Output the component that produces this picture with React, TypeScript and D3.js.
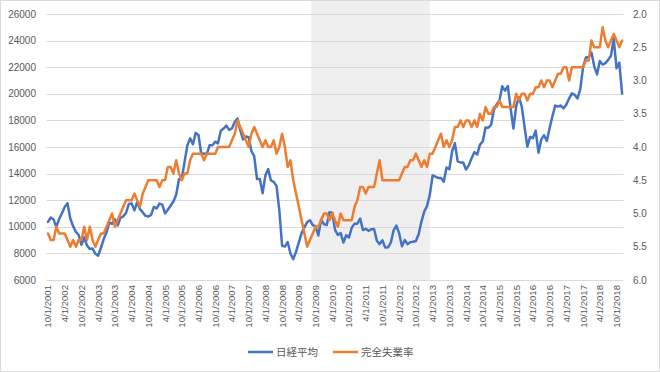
import React from "react";
import * as d3 from "d3";

// Monthly series, starting Oct 2001, ending Dec 2018
const startYear = 2001;
const startMonth = 10;

// 日経平均 (month-end close)
const nikkei: number[] = [
  10366, 10697, 10543, // 2001 Oct-Dec
  9997, 10587, 11025, 11493, 11764, 10622, 10053, 9619, 9383, 8640, 9216, 8579, // 2002
  8340, 8363, 7973, 7831, 8425, 9083, 9563, 10344, 10219, 10560, 10101, 10677, // 2003
  10784, 11042, 11715, 11762, 11236, 11858, 11326, 11082, 10824, 10771, 10899, 11489, // 2004
  11388, 11741, 11669, 11009, 11277, 11584, 11900, 12414, 13574, 13607, 14872, 16111, // 2005
  16650, 16205, 17059, 16906, 15468, 15505, 15457, 16141, 16128, 16399, 16274, 17226, // 2006
  17383, 17604, 17288, 17400, 17876, 18138, 17249, 16569, 16786, 16738, 15681, 15308, // 2007
  13592, 13603, 12526, 13850, 14339, 13481, 13377, 13073, 11260, 8577, 8512, 8860, // 2008
  7994, 7568, 8110, 8828, 9523, 9958, 10357, 10493, 10133, 10035, 9345, 10546, // 2009
  10198, 10126, 11090, 11057, 9769, 9383, 9537, 8824, 9369, 9202, 9937, 10229, // 2010
  10238, 10624, 9755, 9850, 9694, 9816, 9833, 8955, 8700, 8988, 8435, 8455, // 2011
  8803, 9723, 10084, 9521, 8543, 9007, 8695, 8840, 8870, 8928, 9446, 10395, // 2012
  11139, 11559, 12398, 13861, 13775, 13677, 13668, 13389, 14456, 14328, 15662, 16291, // 2013
  14915, 14841, 14828, 14304, 14632, 15162, 15621, 15425, 16174, 16414, 17460, 17451, // 2014
  17674, 18798, 19207, 19520, 20563, 20236, 20585, 18890, 17388, 19083, 19747, 19034, // 2015
  17518, 16027, 16759, 16666, 17235, 15576, 16569, 16887, 16450, 17425, 18308, 19114, // 2016
  19041, 19119, 18909, 19197, 19651, 20033, 19925, 19646, 20356, 22012, 22725, 22765, // 2017
  23098, 22068, 21454, 22468, 22202, 22305, 22554, 22865, 24120, 21920, 22351, 20015, // 2018
];

// 完全失業率 (%)
const unemployment: number[] = [
  5.3, 5.4, 5.4, // 2001 Oct-Dec
  5.2, 5.3, 5.3, 5.3, 5.4, 5.5, 5.4, 5.5, 5.4, 5.4, 5.2, 5.4, // 2002
  5.2, 5.4, 5.5, 5.4, 5.3, 5.3, 5.2, 5.1, 5.0, 5.2, 5.1, 5.0, // 2003
  4.9, 4.8, 4.8, 4.8, 4.7, 4.8, 4.9, 4.7, 4.6, 4.5, 4.5, 4.5, // 2004
  4.5, 4.6, 4.5, 4.5, 4.3, 4.3, 4.4, 4.2, 4.4, 4.5, 4.4, 4.4, // 2005
  4.2, 4.1, 4.1, 4.1, 4.1, 4.2, 4.1, 4.1, 4.1, 4.1, 4.0, 4.0, // 2006
  4.0, 4.0, 4.0, 3.9, 3.8, 3.6, 3.7, 3.8, 3.9, 4.0, 3.8, 3.7, // 2007
  3.8, 3.9, 4.0, 3.9, 4.0, 4.0, 3.9, 4.1, 4.0, 3.8, 4.0, 4.3, // 2008
  4.2, 4.5, 4.7, 4.9, 5.1, 5.3, 5.5, 5.4, 5.3, 5.2, 5.2, 5.1, // 2009
  5.0, 5.0, 5.1, 5.0, 5.1, 5.2, 5.0, 5.1, 5.1, 5.1, 5.1, 4.9, // 2010
  4.8, 4.6, 4.6, 4.7, 4.6, 4.6, 4.6, 4.4, 4.2, 4.5, 4.5, 4.5, // 2011
  4.5, 4.5, 4.5, 4.5, 4.4, 4.3, 4.3, 4.2, 4.2, 4.1, 4.2, 4.3, // 2012
  4.2, 4.3, 4.1, 4.1, 4.0, 3.9, 3.8, 4.0, 3.9, 4.0, 3.9, 3.7, // 2013
  3.7, 3.6, 3.7, 3.6, 3.6, 3.7, 3.6, 3.7, 3.5, 3.6, 3.4, 3.5, // 2014
  3.5, 3.4, 3.4, 3.3, 3.4, 3.4, 3.4, 3.4, 3.4, 3.2, 3.3, 3.2, // 2015
  3.2, 3.3, 3.2, 3.2, 3.1, 3.1, 3.0, 3.1, 3.0, 3.0, 3.1, 3.0, // 2016
  2.9, 2.9, 2.8, 2.8, 3.0, 2.8, 2.8, 2.8, 2.8, 2.8, 2.7, 2.7, // 2017
  2.4, 2.5, 2.5, 2.5, 2.2, 2.4, 2.5, 2.4, 2.3, 2.4, 2.5, 2.4, // 2018
];

const leftTicks = [6000, 8000, 10000, 12000, 14000, 16000, 18000, 20000, 22000, 24000, 26000];
const rightTicks = [2.0, 2.5, 3.0, 3.5, 4.0, 4.5, 5.0, 5.5, 6.0];

const xTickLabels = [
  "10/1/2001", "4/1/2002", "10/1/2002", "4/1/2003", "10/1/2003", "4/1/2004",
  "10/1/2004", "4/1/2005", "10/1/2005", "4/1/2006", "10/1/2006", "4/1/2007",
  "10/1/2007", "4/1/2008", "10/1/2008", "4/1/2009", "10/1/2009", "4/1/2010",
  "10/1/2010", "4/1/2011", "10/1/2011", "4/1/2012", "10/1/2012", "4/1/2013",
  "10/1/2013", "4/1/2014", "10/1/2014", "4/1/2015", "10/1/2015", "4/1/2016",
  "10/1/2016", "4/1/2017", "10/1/2017", "4/1/2018", "10/1/2018",
];

// shaded period (first month, last month)
const shadedPeriod = ["9/1/2009", "3/1/2013"];

const seriesNames = ["日経平均", "完全失業率"];
const seriesColors = ["#4472C4", "#ED7D31"];

const monthIndex = (label: string) => {
  const [m, , y] = label.split("/").map(Number);
  return (y - startYear) * 12 + (m - startMonth);
};

const W = 660;
const H = 372;
const plotLeft = 46.6;
const plotRight = 623.5;
const plotTop = 14;
const plotBottom = 280;

export default function App() {
  const n = nikkei.length;
  const step = (plotRight - plotLeft) / n;
  const x = d3
    .scaleLinear()
    .domain([0, n - 1])
    .range([plotLeft + step / 2, plotRight - step / 2]);
  const yL = d3.scaleLinear().domain([6000, 26000]).range([plotBottom, plotTop]);
  const yR = d3.scaleLinear().domain([6.0, 2.0]).range([plotBottom, plotTop]);

  const lineL = d3
    .line<number>()
    .x((_, i) => x(i))
    .y((d) => yL(d));
  const lineR = d3
    .line<number>()
    .x((_, i) => x(i))
    .y((d) => yR(d));

  const shadeX0 = x(monthIndex(shadedPeriod[0])) - step / 2;
  const shadeX1 = x(monthIndex(shadedPeriod[1]));

  const numFont = "'Liberation Sans', Arial, sans-serif";
  const jpFont = "'Noto Sans CJK JP', sans-serif";
  const textColor = "#595959";

  const legendY = 352;
  const legendItems = [
    { x: 248, name: seriesNames[0], color: seriesColors[0] },
    { x: 333, name: seriesNames[1], color: seriesColors[1] },
  ];

  return (
    <svg
      width={W}
      height={H}
      style={{ position: "absolute", left: 0, top: 0, background: "#fff" }}
    >
      <rect x={0.5} y={0.5} width={W - 1} height={H - 1} fill="#fff" stroke="#d9d9d9" />
      <rect
        x={shadeX0}
        y={1}
        width={shadeX1 - shadeX0}
        height={plotBottom - 1}
        fill="#efefef"
      />
      {leftTicks.map((t) => (
        <line
          key={"g" + t}
          x1={plotLeft}
          x2={plotRight}
          y1={Math.round(yL(t)) + 0.5}
          y2={Math.round(yL(t)) + 0.5}
          stroke="#d9d9d9"
          strokeWidth={1}
        />
      ))}
      {leftTicks.map((t) => (
        <text
          key={"l" + t}
          x={36}
          y={yL(t)}
          dy="0.35em"
          textAnchor="end"
          fontFamily={numFont}
          fontSize={10}
          fill={textColor}
        >
          {t}
        </text>
      ))}
      {rightTicks.map((t) => (
        <text
          key={"r" + t}
          x={633}
          y={yR(t)}
          dy="0.35em"
          textAnchor="start"
          fontFamily={numFont}
          fontSize={10}
          fill={textColor}
        >
          {t.toFixed(1)}
        </text>
      ))}
      {xTickLabels.map((lab) => {
        const px = x(monthIndex(lab));
        return (
          <text
            key={lab}
            transform={`translate(${px + 3.5},285) rotate(-90)`}
            textAnchor="end"
            fontFamily={numFont}
            fontSize={9.6}
            fill={textColor}
          >
            {lab}
          </text>
        );
      })}
      <path
        d={lineL(nikkei) || ""}
        fill="none"
        stroke={seriesColors[0]}
        strokeWidth={2.5}
        strokeLinejoin="round"
        strokeLinecap="round"
      />
      <path
        d={lineR(unemployment) || ""}
        fill="none"
        stroke={seriesColors[1]}
        strokeWidth={2.5}
        strokeLinejoin="round"
        strokeLinecap="round"
      />
      {legendItems.map((it) => (
        <g key={it.name}>
          <line
            x1={it.x}
            x2={it.x + 25}
            y1={legendY}
            y2={legendY}
            stroke={it.color}
            strokeWidth={2.5}
          />
          <text
            x={it.x + 28}
            y={legendY}
            dy="0.35em"
            fontFamily={jpFont}
            fontSize={10.5}
            fill={textColor}
          >
            {it.name}
          </text>
        </g>
      ))}
    </svg>
  );
}
